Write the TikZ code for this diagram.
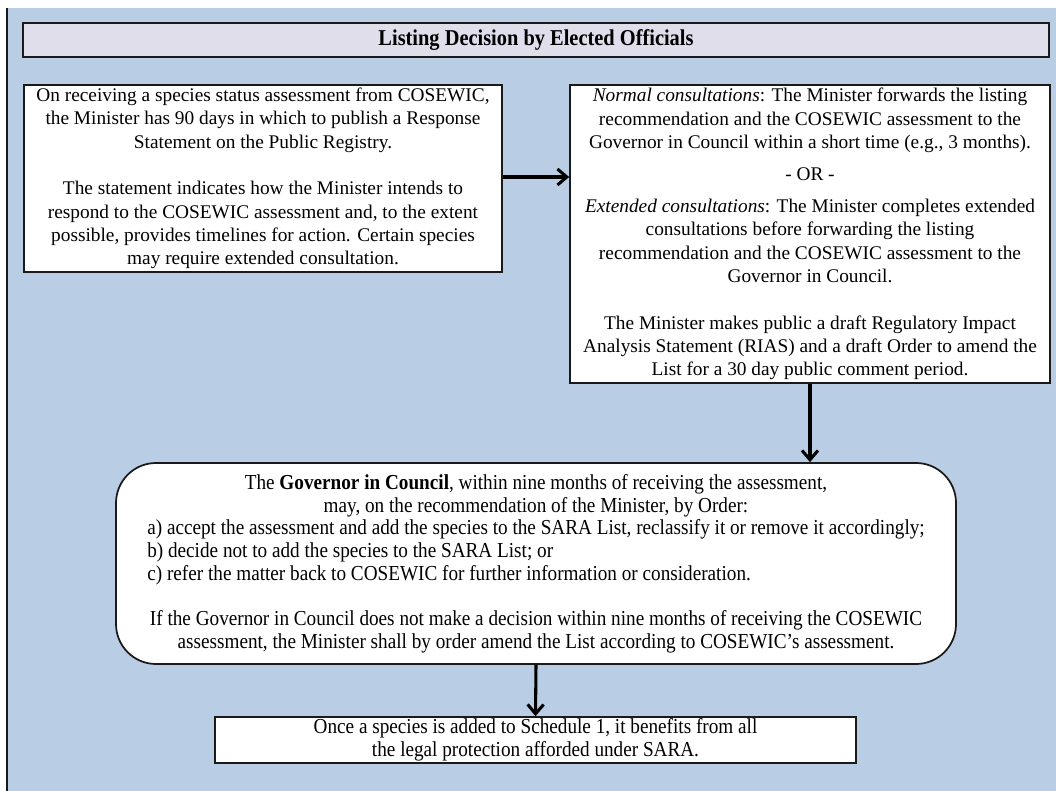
\documentclass[tikz,border=0pt]{standalone}
\usepackage{fontspec}
\setmainfont{Liberation Serif}
\newfontfamily\condfont[FakeStretch=0.9]{Liberation Serif}
\usetikzlibrary{arrows.meta}
\definecolor{bgblue}{HTML}{B9CDE5}
\definecolor{titlefill}{HTML}{E1DEEB}
\definecolor{edgecol}{HTML}{1A1A1A}
\newlength\abcw
\begin{document}
\settowidth{\abcw}{\condfont\fontsize{16}{17}\selectfont a) accept the assessment and add the species to the SARA List, reclassify it or remove it accordingly;}
\begin{tikzpicture}[x=0.75pt,y=-0.75pt,
  mainbox/.style={draw=edgecol, line width=1.3pt, fill=white, inner sep=0pt, align=center,
    font=\fontsize{14.5}{17.5}\selectfont},
  condbox/.style={draw=edgecol, line width=1.3pt, fill=white, inner sep=0pt, align=center,
    font=\condfont\fontsize{16}{17}\selectfont},
  titlebox/.style={draw=edgecol, line width=1.7pt, fill=titlefill, inner sep=0pt, align=center,
    font=\condfont\bfseries\fontsize{17}{18}\selectfont},
  arr/.style={line width=2.3pt, -{Straight Barb[length=7pt,width=12pt]}}]
\useasboundingbox (0,0) rectangle (1056,791);
\fill[white] (0,0) rectangle (1056,791);
\fill[bgblue] (7,8) rectangle (1056,791);
\draw[edgecol, line width=1.1pt] (7,8) -- (7,791);

\node[titlebox, minimum width=769.5pt, minimum height=25.5pt] (title) at (536,40)
  {Listing Decision by Elected Officials};

\node[mainbox, minimum width=358.5pt, minimum height=140.25pt] (left) at (263,178.5)
  {On receiving a species status assessment from COSEWIC,\\
   the Minister has 90 days in which to publish a Response\\
   Statement on the Public Registry.\\[17.5pt]
   The statement indicates how the Minister intends to\\
   respond to the COSEWIC assessment and, to the extent\\
   possible, provides timelines for action. Certain species\\
   may require extended consultation.};

\node[mainbox, minimum width=360pt, minimum height=223.5pt] (right) at (810,234)
  {\textit{Normal consultations}: The Minister forwards the listing\\
   recommendation and the COSEWIC assessment to the\\
   Governor in Council within a short time (e.g., 3 months).\\[6.5pt]
   - OR -\\[6.5pt]
   \textit{Extended consultations}: The Minister completes extended\\
   consultations before forwarding the listing\\
   recommendation and the COSEWIC assessment to the\\
   Governor in Council.\\[17.5pt]
   The Minister makes public a draft Regulatory Impact\\
   Analysis Statement (RIAS) and a draft Order to amend the\\
   List for a 30 day public comment period.};

\node[condbox, rounded corners=30pt, minimum width=630pt, minimum height=150.75pt] (gic) at (536,563.5)
  {The \textbf{Governor in Council}, within nine months of receiving the assessment,\\
   may, on the recommendation of the Minister, by Order:\\
   a) accept the assessment and add the species to the SARA List, reclassify it or remove it accordingly;\\
   \makebox[\abcw][l]{b) decide not to add the species to the SARA List; or}\\
   \makebox[\abcw][l]{c) refer the matter back to COSEWIC for further information or consideration.}\\[17pt]
   If the Governor in Council does not make a decision within nine months of receiving the COSEWIC\\
   assessment, the Minister shall by order amend the List according to COSEWIC’s assessment.};

\node[condbox, minimum width=480.75pt, minimum height=34.5pt] (final) at (535.5,740)
  {Once a species is added to Schedule 1, it benefits from all\\
   the legal protection afforded under SARA.};

\draw[arr] (left.east |- 0,177) -- (right.west |- 0,177);
\draw[arr] (right.south) -- (right.south |- gic.north);
\draw[arr] (gic.south) -- (final.north);
\end{tikzpicture}
\end{document}
